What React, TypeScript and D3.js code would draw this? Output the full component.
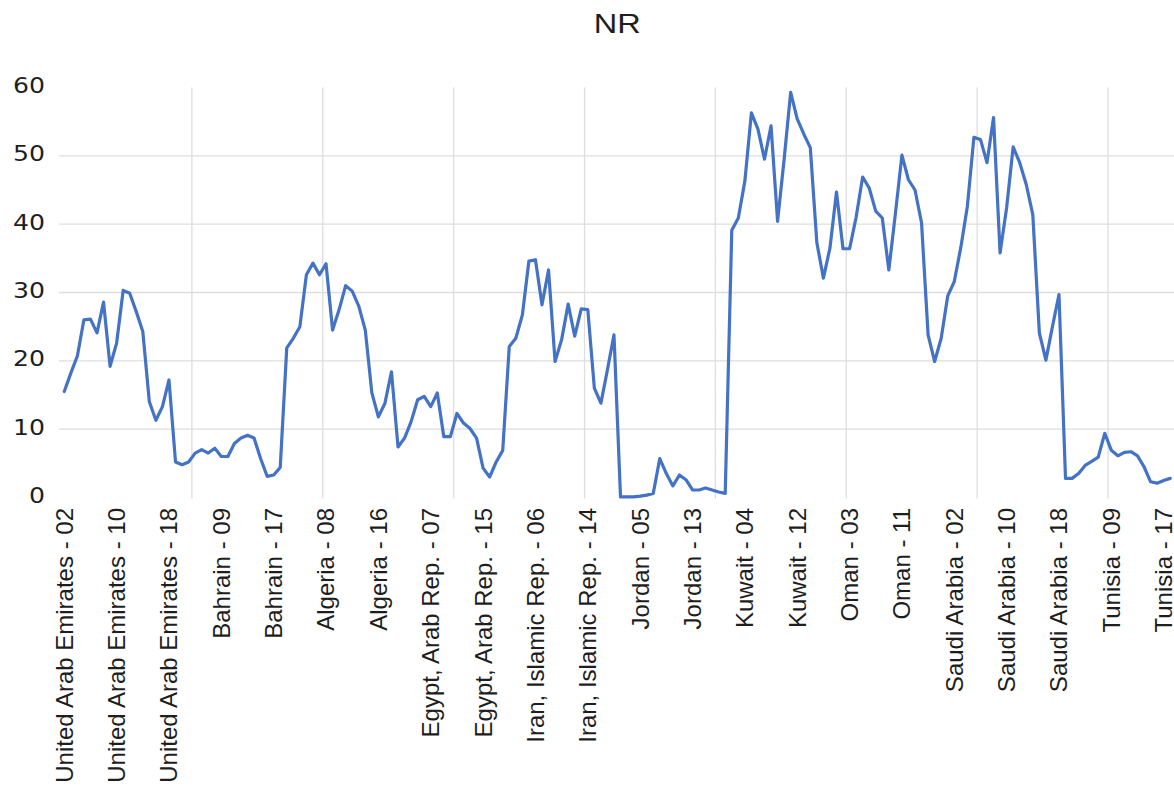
import React from 'react';
import * as d3 from 'd3';

// countries in chart order, years 2002-2018
const countries = [
  'United Arab Emirates',
  'Bahrain',
  'Algeria',
  'Egypt, Arab Rep.',
  'Iran, Islamic Rep.',
  'Jordan',
  'Kuwait',
  'Oman',
  'Saudi Arabia',
  'Tunisia',
];
const years = ['02', '03', '04', '05', '06', '07', '08', '09', '10', '11', '12', '13', '14', '15', '16', '17', '18'];

const uae = [15.5, 18.2, 20.7, 26.0, 26.1, 24.1, 28.6, 19.2, 22.6, 30.3, 29.9, 27.2, 24.3, 14.0, 11.3, 13.3, 17.2];
const bahrain = [5.2, 4.8, 5.2, 6.5, 7.0, 6.5, 7.2, 6.0, 6.0, 7.9, 8.7, 9.1, 8.7, 5.7, 3.1, 3.3, 4.4];
const algeria = [21.9, 23.3, 25.0, 32.6, 34.3, 32.6, 34.2, 24.5, 27.5, 31.0, 30.2, 28.0, 24.5, 15.3, 11.8, 13.8, 18.4];
const egypt = [7.4, 8.7, 11.1, 14.3, 14.8, 13.3, 15.3, 8.9, 8.9, 12.3, 10.9, 10.1, 8.7, 4.3, 3.0, 5.2, 6.9];
const iran = [22.1, 23.3, 26.7, 34.6, 34.8, 28.2, 33.3, 19.9, 23.1, 28.3, 23.6, 27.6, 27.5, 16.0, 13.8, 18.7, 23.8];
const jordan = [0.1, 0.1, 0.1, 0.2, 0.35, 0.6, 5.7, 3.5, 1.7, 3.3, 2.6, 1.1, 1.1, 1.4, 1.1, 0.8, 0.6];
const kuwait = [39.1, 40.9, 46.3, 56.3, 53.9, 49.5, 54.4, 40.4, 49.5, 59.3, 55.4, 53.2, 51.2, 37.3, 32.1, 36.5, 44.7];
const oman = [36.4, 36.4, 41.0, 46.9, 45.3, 41.9, 40.9, 33.3, 41.5, 50.1, 46.5, 45.0, 40.2, 23.8, 19.9, 23.3, 29.5];
const saudi = [31.6, 36.6, 42.6, 52.7, 52.4, 49.0, 55.6, 35.8, 42.4, 51.3, 49.0, 45.8, 41.4, 24.1, 20.1, 25.0, 29.7];
const tunisia = [2.8, 2.8, 3.5, 4.7, 5.3, 5.9, 9.4, 6.9, 6.1, 6.6, 6.7, 6.1, 4.5, 2.3, 2.1, 2.5, 2.8];

const series = [uae, bahrain, algeria, egypt, iran, jordan, kuwait, oman, saudi, tunisia];
const yTicks = [0, 10, 20, 30, 40, 50, 60];

const categories = countries.flatMap((c) => years.map((y) => `${c} - ${y}`));
const values = series.flat();

const width = 1174;
const height = 788;
const left = 61;
const right = 1173.5;
const top = 87.5;
const bottom = 497.5;

export default function App() {
  const x = d3.scaleBand<number>().domain(d3.range(categories.length)).range([left, right]);
  const y = d3.scaleLinear().domain([0, 60]).range([bottom, top]);
  const cx = (i: number) => (x(i) as number) + x.bandwidth() / 2;

  const line = d3
    .line<number>()
    .x((d, i) => cx(i))
    .y((d) => y(d));

  const labelIdx = d3.range(0, categories.length, 8);
  const vGrid = d3.range(20, categories.length, 20);

  return (
    <svg
      width={width}
      height={height}
      style={{ position: 'absolute', left: 0, top: 0, background: '#fff' }}
    >
      <text
        x={(left + right) / 2}
        y={33}
        textAnchor="middle"
        fontFamily="Liberation Sans, Arial, sans-serif"
        fontSize={28}
        fill="#1e1e1e"
        textLength={47}
        lengthAdjust="spacingAndGlyphs"
      >
        NR
      </text>

      <g stroke="#dedede" strokeWidth={1.3}>
        {yTicks
          .filter((t) => t > 0 && t < 60)
          .map((t) => (
            <line key={t} x1={left - 2} x2={width} y1={y(t)} y2={y(t)} />
          ))}
        {vGrid.map((i) => (
          <line key={i} x1={x(i)} x2={x(i)} y1={top} y2={bottom + 1} />
        ))}
      </g>

      <g fontFamily="DejaVu Sans, Verdana, sans-serif" fontSize={21} fill="#1e1e1e">
        {yTicks.map((t) => (
          <text
            key={t}
            x={45}
            y={y(t) + 5.5}
            textAnchor="end"
            textLength={String(t).length * 16}
            lengthAdjust="spacingAndGlyphs"
          >
            {t}
          </text>
        ))}
      </g>

      <path
        d={line(values) as string}
        fill="none"
        stroke="#4472c4"
        strokeWidth={3.2}
        strokeLinejoin="round"
        strokeLinecap="round"
      />

      <g fontFamily="Liberation Sans, Arial, sans-serif" fontSize={24} fill="#1e1e1e">
        {labelIdx.map((i) => (
          <text
            key={i}
            transform={`translate(${cx(i)},${508}) rotate(-90)`}
            textAnchor="end"
            dy="0.35em"
          >
            {categories[i]}
          </text>
        ))}
      </g>
    </svg>
  );
}
